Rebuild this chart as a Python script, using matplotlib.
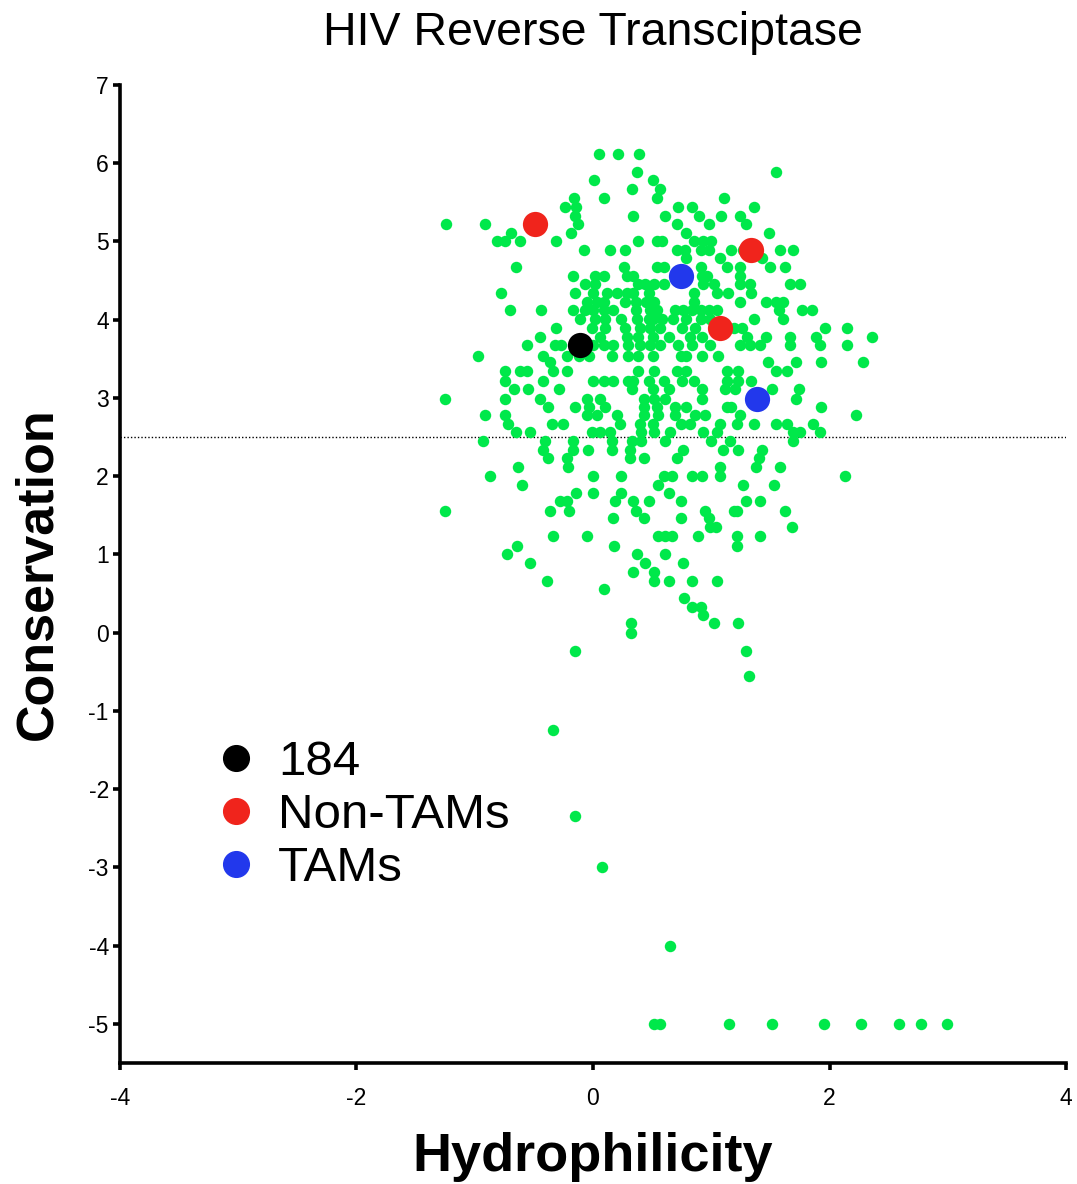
import matplotlib
matplotlib.use("Agg")
import matplotlib.pyplot as plt
from matplotlib.lines import Line2D

plt.rcParams['font.family'] = ['Liberation Sans', 'DejaVu Sans']

# Conservation levels (rows) and the hydrophilicity of every residue at that level
conservation_rows = [
    6.12, 5.89, 5.78, 5.67, 5.55, 5.44, 5.32, 5.22, 5.11, 5.00,
    4.89, 4.79, 4.68, 4.56, 4.46, 4.34, 4.23, 4.12, 4.01, 3.90,
    3.78, 3.68, 3.54, 3.46, 3.35, 3.22, 3.12, 2.99, 2.89, 2.78,
    2.67, 2.57, 2.45, 2.34, 2.23, 2.12, 2.00, 1.89, 1.78, 1.68,
    1.56, 1.46, 1.35, 1.23, 1.11, 1.00, 0.89, 0.78, 0.66, 0.56,
    0.44, 0.33, 0.22, 0.12, -0.01, -0.24, -0.56, -1.24, -2.34, -3.00,
    -4.00, -5.00,
]
hydrophilicity_rows = [
    [0.05, 0.21, 0.39],
    [0.37, 1.55],
    [0.01, 0.51],
    [0.33, 0.57],
    [-0.16, 0.09, 0.54, 1.11],
    [-0.24, -0.14, 0.72, 0.84, 1.36],
    [-0.15, 0.34, 0.61, 0.90, 1.08, 1.24],
    [-1.24, -0.91, -0.13, 0.71, 0.98, 1.29],
    [-0.69, -0.19, 0.79, 1.49],
    [-0.81, -0.74, -0.62, -0.31, 0.38, 0.54, 0.58, 0.85, 0.93, 1.00],
    [-0.08, 0.14, 0.27, 0.71, 0.78, 0.91, 0.98, 1.17, 1.27, 1.58, 1.69],
    [0.79, 1.07, 1.43],
    [-0.65, 0.26, 0.54, 0.60, 0.91, 1.13, 1.24, 1.50, 1.62],
    [-0.17, 0.02, 0.09, 0.29, 0.34, 0.92, 0.96, 1.24],
    [-0.07, 0.02, 0.38, 0.44, 0.52, 0.60, 0.93, 1.02, 1.24, 1.33, 1.67, 1.75],
    [-0.78, -0.15, 0.00, 0.12, 0.20, 0.29, 0.34, 0.47, 0.85, 1.05, 1.14, 1.34],
    [-0.05, 0.03, 0.09, 0.27, 0.36, 0.45, 0.52, 0.85, 1.24, 1.46, 1.55, 1.61],
    [-0.70, -0.44, -0.17, -0.07, 0.00, 0.09, 0.17, 0.36, 0.48, 0.54, 0.69,
     0.76, 0.84, 0.91, 0.98, 1.05, 1.57, 1.77, 1.85],
    [-0.11, 0.02, 0.10, 0.24, 0.37, 0.47, 0.51, 0.58, 0.68, 0.79, 0.91, 0.99,
     1.36, 1.61],
    [-0.31, -0.01, 0.10, 0.27, 0.40, 0.48, 0.57, 0.75, 0.86, 1.19, 1.26, 1.96,
     2.15],
    [-0.45, 0.06, 0.29, 0.38, 0.51, 0.64, 0.82, 0.92, 1.30, 1.46, 1.67, 1.89,
     2.36],
    [-0.56, -0.32, -0.27, 0.00, 0.09, 0.17, 0.30, 0.40, 0.48, 0.57, 0.72, 0.84,
     0.99, 1.24, 1.33, 1.41, 1.67, 1.92, 2.15],
    [-0.97, -0.42, -0.22, -0.12, -0.03, 0.16, 0.30, 0.38, 0.51, 0.74, 0.79,
     0.92, 1.06],
    [-0.36, 1.48, 1.72, 1.93, 2.28],
    [-0.74, -0.62, -0.56, -0.34, -0.22, 0.38, 0.52, 0.71, 0.79, 1.13, 1.23,
     1.55, 1.64],
    [-0.74, -0.42, 0.00, 0.09, 0.17, 0.30, 0.34, 0.47, 0.60, 0.75, 0.85, 1.13,
     1.23, 1.34],
    [-0.67, -0.55, -0.29, 0.33, 0.51, 0.64, 0.92, 1.12, 1.20, 1.51, 1.74],
    [-1.25, -0.74, -0.45, -0.05, 0.06, 0.43, 0.52, 0.61, 0.92, 1.72],
    [-0.38, -0.15, -0.03, 0.10, 0.43, 0.54, 0.69, 0.79, 1.13, 1.17, 1.93],
    [-0.91, -0.74, -0.05, 0.03, 0.20, 0.43, 0.55, 0.69, 0.86, 0.95, 1.24, 2.22],
    [-0.72, -0.35, -0.25, 0.23, 0.40, 0.51, 0.74, 0.82, 1.07, 1.22, 1.36, 1.55,
     1.64, 1.86],
    [-0.65, -0.53, -0.01, 0.06, 0.14, 0.41, 0.52, 0.65, 0.93, 1.05, 1.69, 1.75,
     1.92],
    [-0.93, -0.41, -0.17, 0.16, 0.33, 0.41, 0.61, 1.00, 1.16, 1.69],
    [-0.42, -0.17, -0.04, 0.16, 0.31, 0.76, 1.10, 1.23, 1.43],
    [-0.38, -0.22, 0.31, 0.43, 0.71, 1.40],
    [-0.63, -0.21, 1.07, 1.38, 1.58],
    [-0.87, 0.00, 0.24, 0.60, 0.67, 0.84, 0.92, 1.07, 2.13],
    [-0.60, 0.55, 1.27, 1.53],
    [-0.14, 0.00, 0.24, 0.64],
    [-0.28, -0.22, 0.19, 0.34, 0.47, 0.74, 1.29, 1.41],
    [-1.25, -0.36, -0.20, 0.36, 0.95, 1.19, 1.22, 1.62],
    [0.17, 0.43, 0.74, 0.98],
    [0.99, 1.04, 1.68],
    [-0.34, -0.05, 0.55, 0.61, 0.67, 0.89, 1.22, 1.41],
    [-0.64, 0.18, 1.22],
    [-0.73, 0.37, 0.61],
    [-0.53, 0.44, 0.76],
    [0.34, 0.52],
    [-0.39, 0.52, 0.64, 0.84, 1.05],
    [0.09],
    [0.77],
    [0.84, 0.91],
    [0.93],
    [0.32, 1.02, 1.23],
    [0.32],
    [-0.15, 1.29],
    [1.32],
    [-0.34],
    [-0.15],
    [0.08],
    [0.65],
    [0.52, 0.57, 1.15, 1.51, 1.95, 2.27, 2.59, 2.77, 2.99],
]

# Highlighted residues
pos184_x, pos184_y = [-0.11], [3.68]
non_tams_x = [-0.49, 1.34, 1.07]
non_tams_y = [5.22, 4.89, 3.90]
tams_x = [0.74, 1.39]
tams_y = [4.56, 2.99]

conservation_cutoff = 2.5

x_ticks = [-4, -2, 0, 2, 4]
y_ticks = list(range(-5, 8))

GREEN = '#00e84a'
RED = '#f0241c'
BLUE = '#2238ec'

all_x, all_y = [], []
for level, row in zip(conservation_rows, hydrophilicity_rows):
    all_x.extend(row)
    all_y.extend([level] * len(row))

fig = plt.figure(figsize=(10.77, 11.84), dpi=100)
ax = fig.add_axes([0.1114, 0.1022, 0.8784, 0.826])

ax.scatter(all_x, all_y, s=68, color=GREEN, linewidths=0, zorder=2)
ax.scatter(pos184_x, pos184_y, s=330, color='black', linewidths=0, zorder=3)
ax.scatter(non_tams_x, non_tams_y, s=330, color=RED, linewidths=0, zorder=3)
ax.scatter(tams_x, tams_y, s=330, color=BLUE, linewidths=0, zorder=3)

ax.axhline(conservation_cutoff, color='black', linestyle=(0, (1, 1.5)),
           linewidth=1.0, zorder=1)

ax.set_xlim(-4, 4)
ax.set_ylim(-5.5, 7)
ax.set_xticks(x_ticks)
ax.set_yticks(y_ticks)
ax.set_xticklabels([str(v) for v in x_ticks])
ax.set_yticklabels([str(v) for v in y_ticks])

for side in ('top', 'right'):
    ax.spines[side].set_visible(False)
for side in ('left', 'bottom'):
    ax.spines[side].set_linewidth(2.6)
ax.tick_params(direction='out', length=5, width=2.6, labelsize=16.5, pad=3)
ax.tick_params(axis='x', pad=12)

ax.set_xlabel('Hydrophilicity', fontsize=39, fontweight='bold', labelpad=16)
ax.set_ylabel('Conservation', fontsize=37.5, fontweight='bold', labelpad=19)
ax.set_title('HIV Reverse Transciptase', fontsize=33.5, pad=29)

handles = [
    Line2D([], [], marker='o', linestyle='none', color='black', markersize=18.5),
    Line2D([], [], marker='o', linestyle='none', color=RED, markersize=18.5),
    Line2D([], [], marker='o', linestyle='none', color=BLUE, markersize=18.5),
]
ax.legend(handles, ['184', 'Non-TAMs', 'TAMs'], loc='upper left',
          bbox_to_anchor=(0.097, 0.330), frameon=False, fontsize=35.5,
          handletextpad=0.34, labelspacing=0.16, borderpad=0,
          borderaxespad=0, handlelength=1.0)

fig.savefig('out.png', dpi=100)
